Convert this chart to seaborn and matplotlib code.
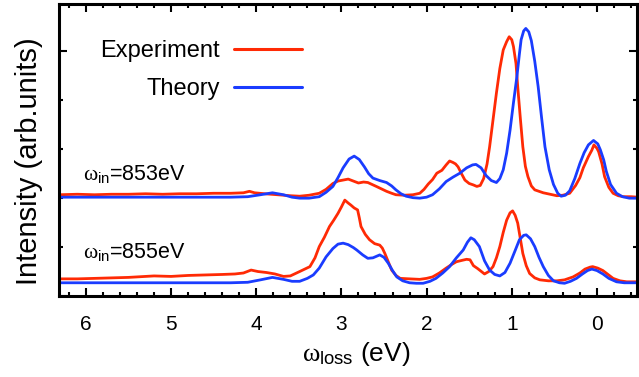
import matplotlib
matplotlib.use("Agg")
import matplotlib.pyplot as plt
from matplotlib.ticker import FixedLocator, MultipleLocator
import seaborn as sns
import pandas as pd

# ---------------- data ----------------
# omega_in = 853 eV : experiment
ex853_x = [6.31, 6.1, 5.9, 5.7, 5.5, 5.3, 5.1, 4.9, 4.7, 4.5, 4.3, 4.15, 4.08, 4.02, 3.9, 3.75,
           3.6, 3.49, 3.38, 3.26, 3.18, 3.10, 3.04, 2.98, 2.92, 2.86, 2.80, 2.74, 2.69, 2.64,
           2.59, 2.53, 2.47, 2.41, 2.36, 2.26, 2.16, 2.08, 2.03, 1.98, 1.93, 1.88, 1.82, 1.77,
           1.73, 1.69, 1.66, 1.63, 1.59, 1.55, 1.50, 1.45, 1.41, 1.37, 1.33, 1.29, 1.26, 1.22,
           1.18, 1.14, 1.10, 1.06, 1.03, 1.00, 0.98, 0.95, 0.93, 0.90, 0.87, 0.84, 0.81, 0.77,
           0.73, 0.68, 0.63, 0.55, 0.47, 0.40, 0.32, 0.25, 0.20, 0.16, 0.10, 0.06, 0.035, 0.0,
           -0.02, -0.06, -0.09, -0.14, -0.19, -0.25, -0.31, -0.40, -0.48]
ex853_y = [2.07, 2.08, 2.07, 2.08, 2.08, 2.09, 2.08, 2.09, 2.09, 2.10, 2.10, 2.11, 2.14, 2.11, 2.09, 2.07,
           2.05, 2.04, 2.06, 2.10, 2.18, 2.30, 2.35, 2.37, 2.39, 2.35, 2.31, 2.33, 2.32, 2.28,
           2.24, 2.19, 2.14, 2.10, 2.07, 2.06, 2.07, 2.10, 2.18, 2.29, 2.38, 2.51, 2.57, 2.68,
           2.76, 2.73, 2.70, 2.64, 2.50, 2.37, 2.30, 2.27, 2.24, 2.26, 2.40, 2.70, 3.05, 3.60,
           4.15, 4.65, 5.03, 5.20, 5.30, 5.24, 5.10, 4.75, 4.28, 3.65, 3.05, 2.65, 2.44, 2.25,
           2.17, 2.14, 2.11, 2.08, 2.05, 2.06, 2.10, 2.26, 2.42, 2.62, 2.85, 2.98, 3.09, 3.02,
           2.95, 2.70, 2.44, 2.22, 2.10, 2.05, 2.03, 2.03, 2.02]

# omega_in = 853 eV : theory
th853_x = [6.31, 5.0, 4.3, 4.1, 3.95, 3.81, 3.68, 3.58, 3.49, 3.38, 3.26, 3.18, 3.10, 3.04, 2.98,
           2.91, 2.85, 2.79, 2.73, 2.68, 2.63, 2.55, 2.47, 2.41, 2.36, 2.30, 2.24, 2.16, 2.08,
           2.0, 1.93, 1.85, 1.77, 1.69, 1.61, 1.53, 1.46, 1.42, 1.36, 1.30, 1.24, 1.18, 1.14,
           1.10, 1.06, 1.02, 0.98, 0.94, 0.91, 0.89, 0.86, 0.835, 0.80, 0.77, 0.73, 0.69, 0.65,
           0.61, 0.56, 0.51, 0.46, 0.42, 0.37, 0.32, 0.26, 0.20, 0.15, 0.10, 0.04, -0.01, -0.04,
           -0.08, -0.11, -0.16, -0.23, -0.30, -0.38, -0.48]
th853_y = [2.02, 2.02, 2.02, 2.03, 2.07, 2.11, 2.07, 2.02, 2.0, 2.0, 2.03, 2.12, 2.24, 2.42, 2.62,
           2.80, 2.86, 2.79, 2.64, 2.50, 2.41, 2.36, 2.32, 2.25, 2.17, 2.09, 2.04, 2.01, 2.0,
           2.02, 2.07, 2.19, 2.34, 2.43, 2.51, 2.62, 2.68, 2.69, 2.62, 2.46, 2.36, 2.32, 2.40,
           2.58, 2.92, 3.39, 3.95, 4.48, 4.95, 5.24, 5.42, 5.47, 5.40, 5.22, 4.80, 4.28, 3.65,
           3.05, 2.58, 2.28, 2.10, 2.04, 2.06, 2.15, 2.40, 2.71, 2.93, 3.09, 3.18, 3.11, 2.99,
           2.78, 2.55, 2.28, 2.10, 2.03, 2.0, 2.0]

# omega_in = 855 eV : experiment
ex855_x = [6.31, 6.1, 5.9, 5.7, 5.5, 5.3, 5.2, 5.0, 4.8, 4.6, 4.4, 4.25, 4.15, 4.06, 3.98, 3.88,
           3.78, 3.68, 3.6, 3.49, 3.43, 3.37, 3.31, 3.26, 3.20, 3.14, 3.09, 3.04, 3.00, 2.96,
           2.92, 2.89, 2.85, 2.81, 2.79, 2.77, 2.72, 2.67, 2.61, 2.55, 2.52, 2.49, 2.45, 2.41,
           2.36, 2.31, 2.2, 2.08, 2.0, 1.93, 1.85, 1.77, 1.70, 1.65, 1.58, 1.53, 1.49, 1.45,
           1.40, 1.32, 1.27, 1.22, 1.18, 1.14, 1.10, 1.06, 1.02, 0.99, 0.96, 0.93, 0.90, 0.87,
           0.83, 0.79, 0.73, 0.67, 0.57, 0.47, 0.38, 0.28, 0.20, 0.14, 0.08, 0.05, -0.01, -0.07,
           -0.13, -0.19, -0.27, -0.35, -0.48]
ex855_y = [0.35, 0.35, 0.36, 0.37, 0.38, 0.40, 0.41, 0.40, 0.42, 0.43, 0.44, 0.45, 0.47, 0.53, 0.50, 0.48,
           0.45, 0.40, 0.41, 0.50, 0.55, 0.60, 0.78, 1.01, 1.20, 1.42, 1.55, 1.69, 1.82, 1.96,
           1.90, 1.86, 1.80, 1.76, 1.60, 1.42, 1.26, 1.15, 1.07, 1.04, 0.98, 0.87, 0.70, 0.53,
           0.42, 0.36, 0.35, 0.34, 0.36, 0.39, 0.47, 0.57, 0.65, 0.70, 0.73, 0.75, 0.74, 0.62,
           0.56, 0.45, 0.50, 0.60, 0.78, 1.01, 1.30, 1.55, 1.70, 1.74, 1.65, 1.49, 1.18, 0.87,
           0.62, 0.46, 0.37, 0.33, 0.31, 0.31, 0.33, 0.39, 0.47, 0.55, 0.59, 0.60, 0.57, 0.52,
           0.44, 0.36, 0.31, 0.29, 0.29]

# omega_in = 855 eV : theory
th855_x = [6.31, 5.0, 4.3, 4.1, 3.95, 3.81, 3.68, 3.58, 3.49, 3.40, 3.33, 3.26, 3.18, 3.10, 3.04,
           2.98, 2.92, 2.86, 2.82, 2.75, 2.69, 2.63, 2.55, 2.50, 2.45, 2.40, 2.35, 2.28, 2.20,
           2.12, 2.04, 1.96, 1.89, 1.81, 1.73, 1.65, 1.57, 1.52, 1.48, 1.44, 1.38, 1.32, 1.26,
           1.20, 1.14, 1.08, 1.02, 0.96, 0.91, 0.86, 0.83, 0.78, 0.73, 0.68, 0.63, 0.57, 0.51,
           0.44, 0.38, 0.31, 0.24, 0.17, 0.11, 0.06, 0.0, -0.07, -0.14, -0.23, -0.32, -0.48]
th855_y = [0.27, 0.27, 0.27, 0.28, 0.33, 0.38, 0.34, 0.30, 0.30, 0.36, 0.43, 0.57, 0.80, 0.97, 1.06,
           1.08, 1.05, 0.99, 0.94, 0.84, 0.77, 0.78, 0.84, 0.79, 0.67, 0.52, 0.39, 0.31, 0.27,
           0.26, 0.26, 0.30, 0.36, 0.47, 0.60, 0.78, 0.94, 1.10, 1.19, 1.15, 1.01, 0.72, 0.53,
           0.44, 0.41, 0.48, 0.67, 0.93, 1.15, 1.24, 1.25, 1.17, 1.01, 0.79, 0.60, 0.42, 0.31,
           0.27, 0.26, 0.30, 0.36, 0.45, 0.52, 0.55, 0.52, 0.45, 0.36, 0.29, 0.27, 0.27]

series_labels = ["Experiment", "Theory"]
spectrum_labels = [r"$\omega_{\mathrm{in}}$=853eV", r"$\omega_{\mathrm{in}}$=855eV"]
x_ticks = [6, 5, 4, 3, 2, 1, 0]
x_label = r"$\omega_{\mathrm{loss}}$ (eV)"
y_label = "Intensity (arb.units)"

# ---------------- style ----------------
sns.set_style("white")
plt.rcParams["font.family"] = ["Liberation Sans", "DejaVu Sans"]
plt.rcParams["mathtext.fontset"] = "custom"
plt.rcParams["mathtext.rm"] = "Liberation Sans"
plt.rcParams["mathtext.it"] = "Liberation Serif"
plt.rcParams["mathtext.bf"] = "Liberation Sans:bold"
plt.rcParams["text.color"] = "black"
plt.rcParams["axes.labelcolor"] = "black"
plt.rcParams["xtick.color"] = "black"
plt.rcParams["ytick.color"] = "black"

RED = "#ff2a05"
BLUE = "#1a3cff"

fig = plt.figure(figsize=(6.39, 3.77), dpi=100)
ax = fig.add_axes([0.0931, 0.2149, 0.9045, 0.7745])

def frame(x, y, series):
    return pd.DataFrame({"energy": x, "intensity": y, "series": series})

lw = 2.0
sns.lineplot(data=frame(ex853_x, ex853_y, series_labels[0]), x="energy", y="intensity",
             color=RED, lw=lw, estimator=None, ax=ax, label=series_labels[0])
sns.lineplot(data=frame(th853_x, th853_y, series_labels[1]), x="energy", y="intensity",
             color=BLUE, lw=lw, estimator=None, ax=ax, label=series_labels[1])
sns.lineplot(data=frame(ex855_x, ex855_y, series_labels[0]), x="energy", y="intensity",
             color=RED, lw=lw, estimator=None, ax=ax)
sns.lineplot(data=frame(th855_x, th855_y, series_labels[1]), x="energy", y="intensity",
             color=BLUE, lw=lw, estimator=None, ax=ax)

ax.set_xlim(6.31, -0.476)
ax.set_ylim(0, 5.97)

ax.xaxis.set_major_locator(FixedLocator(x_ticks))
ax.xaxis.set_minor_locator(MultipleLocator(0.2))
ax.set_xticklabels([str(t) for t in x_ticks])
ax.yaxis.set_major_locator(FixedLocator([0, 5]))
ax.yaxis.set_minor_locator(MultipleLocator(1))

for s in ax.spines.values():
    s.set_linewidth(2.2)
    s.set_color("black")
    s.set_visible(True)

ax.tick_params(which="both", direction="in", top=True, right=True, bottom=True, left=True,
               width=1.5, color="black", labelleft=False, labelcolor="black")
ax.tick_params(which="major", length=5.8, labelsize=15, pad=13.5)
ax.tick_params(which="minor", length=3.0)

ax.set_xlabel(x_label, fontsize=19, color="black")
ax.set_ylabel(y_label, fontsize=21, color="black")
ax.xaxis.set_label_coords(0.513, -0.152)
ax.yaxis.set_label_coords(-0.029, 0.462)

ax.text(6.03, 2.37, spectrum_labels[0], fontsize=15.5, va="baseline", ha="left", color="black")
ax.text(6.03, 0.77, spectrum_labels[1], fontsize=15.5, va="baseline", ha="left", color="black")

leg = ax.legend(loc="upper left", bbox_to_anchor=(0.07, 0.876), frameon=False, markerfirst=False,
                fontsize=17, handlelength=2.9, handletextpad=0.6, labelspacing=0.66,
                borderpad=0, borderaxespad=0, labelcolor="black")
for h in leg.get_lines():
    h.set_linewidth(2.2)

fig.savefig("out.png", dpi=100)
